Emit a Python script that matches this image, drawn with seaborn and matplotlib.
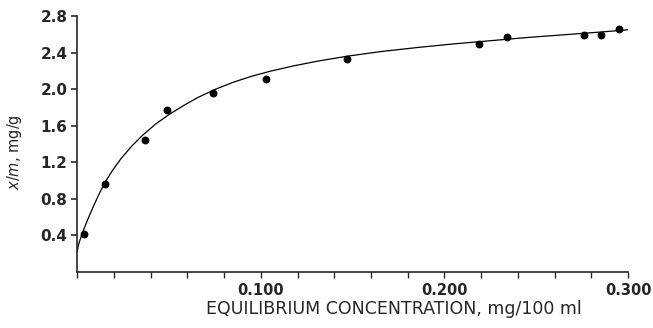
import numpy as np
import pandas as pd
import matplotlib
matplotlib.use("Agg")
import matplotlib.pyplot as plt
from matplotlib.ticker import MultipleLocator, FixedLocator
import seaborn as sns

# measured points (equilibrium concentration, x/m)
conc = [0.004, 0.015, 0.037, 0.049, 0.074, 0.103, 0.147,
        0.219, 0.234, 0.276, 0.285, 0.295]
xm = [0.41, 0.955, 1.445, 1.77, 1.96, 2.11, 2.33,
      2.49, 2.57, 2.59, 2.59, 2.66]

# fitted curve
curve_x = [0.0, 0.001, 0.0025, 0.004, 0.006, 0.009, 0.012, 0.015,
           0.019, 0.024, 0.030, 0.036, 0.043, 0.050, 0.058, 0.066,
           0.075, 0.085, 0.095, 0.105, 0.118, 0.132, 0.147, 0.165,
           0.185, 0.205, 0.225, 0.245, 0.265, 0.285, 0.300]
curve_y = [0.22, 0.31, 0.40, 0.48, 0.58, 0.72, 0.85, 0.97,
           1.10, 1.24, 1.38, 1.50, 1.62, 1.72, 1.82, 1.91,
           1.995, 2.075, 2.14, 2.195, 2.255, 2.31, 2.36, 2.41,
           2.455, 2.495, 2.53, 2.565, 2.595, 2.625, 2.65]

y_ticks = [0.4, 0.8, 1.2, 1.6, 2.0, 2.4, 2.8]
x_ticks = [0.1, 0.2, 0.3]
x_labels = ["0.100", "0.200", "0.300"]

df_pts = pd.DataFrame({"conc": conc, "xm": xm})
df_curve = pd.DataFrame({"conc": curve_x, "xm": curve_y})

sns.set_style("ticks")
plt.rcParams["font.family"] = ["DejaVu Sans"]

fig = plt.figure(figsize=(6.53, 3.28), dpi=100)
ax = fig.add_axes([0.118, 0.172, 0.844, 0.779])

sns.lineplot(data=df_curve, x="conc", y="xm", ax=ax, color="black",
             linewidth=0.9, sort=False)
sns.scatterplot(data=df_pts, x="conc", y="xm", ax=ax, color="black",
                s=32, edgecolor="black", linewidth=0, zorder=3)

ax.set_xlim(0, 0.3)
ax.set_ylim(0, 2.8)
sns.despine(ax=ax)
for side in ["left", "bottom"]:
    ax.spines[side].set_linewidth(1.2)

ax.yaxis.set_major_locator(FixedLocator(y_ticks))
ax.set_yticklabels([f"{v:.1f}" for v in y_ticks], fontsize=11,
                   fontweight="bold")
ax.xaxis.set_major_locator(FixedLocator(x_ticks))
ax.set_xticklabels(x_labels, fontsize=10.5, fontweight="bold")
ax.xaxis.set_minor_locator(MultipleLocator(0.02))
ax.tick_params(axis="y", length=4, width=1.2, pad=3)
ax.tick_params(axis="x", which="both", length=4, width=1.0, pad=4)

ax.set_xlabel("EQUILIBRIUM CONCENTRATION, mg/100 ml", fontsize=12.5)
ax.xaxis.set_label_coords(0.574, -0.11)
ax.set_ylabel("$x/m$, mg/g", fontsize=10.5)
ax.yaxis.set_label_coords(-0.097, 0.468)

plt.savefig("out.png", dpi=100)
